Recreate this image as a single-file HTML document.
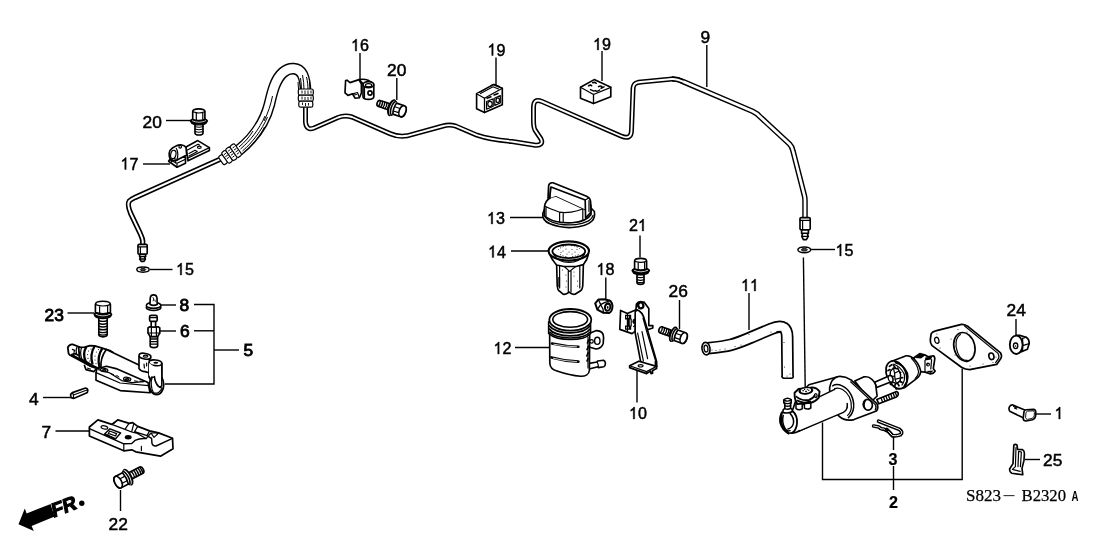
<!DOCTYPE html>
<html>
<head>
<meta charset="utf-8">
<title>Clutch Master Cylinder - Parts Diagram</title>
<style>
html,body{margin:0;padding:0;background:#fff;}
body{width:1108px;height:553px;overflow:hidden;font-family:"Liberation Sans",sans-serif;}
svg{display:block;will-change:transform;}
.lbl{font-family:"Liberation Sans",sans-serif;font-size:16.7px;fill:#000;stroke:#000;stroke-width:0.5px;}
.ld{stroke:#000;stroke-width:1.4;fill:none;}
.o{stroke:#000;stroke-width:1.65;fill:#fff;stroke-linejoin:round;stroke-linecap:round;}
.t{stroke:#000;stroke-width:1.2;fill:none;stroke-linejoin:round;stroke-linecap:round;}
.k{fill:#000;stroke:none;}
.n{fill:none;}
</style>
</head>
<body>
<svg width="1108" height="553" viewBox="0 0 1108 553">
<rect x="0" y="0" width="1108" height="553" fill="#fff"/>

<!-- ================= PIPES ================= -->
<g id="pipes" fill="none" stroke-linejoin="round" stroke-linecap="butt">
<!-- left thin pipe -->
<path id="pL" d="M142.7,246 L142.7,241 C142.5,238 141,235.5 140,233 L130.5,213 C128.5,208 127.2,204 129.2,201.2 C130.6,199.4 133,198.4 135,197.5 L222,158.4" stroke="#000" stroke-width="5.3"/>
<path d="M142.7,246 L142.7,241 C142.5,238 141,235.5 140,233 L130.5,213 C128.5,208 127.2,204 129.2,201.2 C130.6,199.4 133,198.4 135,197.5 L222,158.4" stroke="#fff" stroke-width="2.0"/>
<!-- main pipe 9 -->
<path d="M672,79 C676,78.7 679,79.6 683,81.6 L752.5,111.3 C755.5,112.8 757.5,113.8 759.5,116.3 L789.5,144 C791.5,146 792.5,148 793,151 L804.5,196 C805,198 805,199 805,201 L805,219" stroke="#000" stroke-width="5.5"/>
<path d="M672,79 C676,78.7 679,79.6 683,81.6 L752.5,111.3 C755.5,112.8 757.5,113.8 759.5,116.3 L789.5,144 C791.5,146 792.5,148 793,151 L804.5,196 C805,198 805,199 805,201 L805,219" stroke="#fff" stroke-width="2.7"/>
<path id="p9" d="M305.5,106 L305.5,122 C306,128 309,130 314,128 L338,117.5 C343,115.5 347,115.5 352,117 L390,133.6 C395,135.8 400,137 407,135.8 L443,126 C447,124.8 451,124.6 456,126.2 L477,135.2 C488,139 500,140.5 512,141.5 L534,145 C541,146 543,143 541,139 L535,130 C533.5,127 533.5,125 533.5,120 L533.5,108 C533.5,101 536,99 542,101.5 L621,136 C628,139 631.5,137 631.5,130 L633,90 C633,84 635,82.5 641,82 L672,79 C676,78.7 679,79.6 683,81.6" stroke="#000" stroke-width="5"/>
<path d="M305.5,106 L305.5,122 C306,128 309,130 314,128 L338,117.5 C343,115.5 347,115.5 352,117 L390,133.6 C395,135.8 400,137 407,135.8 L443,126 C447,124.8 451,124.6 456,126.2 L477,135.2 C488,139 500,140.5 512,141.5 L534,145 C541,146 543,143 541,139 L535,130 C533.5,127 533.5,125 533.5,120 L533.5,108 C533.5,101 536,99 542,101.5 L621,136 C628,139 631.5,137 631.5,130 L633,90 C633,84 635,82.5 641,82 L672,79 C676,78.7 679,79.6 683,81.6" stroke="#fff" stroke-width="1.9"/>

<!-- hose -->
<path d="M238.5,150.5 C252,139.5 264.5,124 269.5,104 C272.5,91 275.5,79 283,72.5 C289.5,67 298.5,67 302.5,74.5 C304.5,79 305.5,84 305.5,91" stroke="#000" stroke-width="11.6"/>
<path d="M238.5,150.5 C252,139.5 264.5,124 269.5,104 C272.5,91 275.5,79 283,72.5 C289.5,67 298.5,67 302.5,74.5 C304.5,79 305.5,84 305.5,91" stroke="#fff" stroke-width="8.8"/>
<g stroke="#000" stroke-width="1">
<path d="M240.5,149 C250,141 259.5,129 265,116"/>
<path d="M242.5,151 C252,143 262,130 267.5,117"/>
<path d="M244.5,152 C252,145.5 260,136 264.5,127"/>
<path d="M239,147 C245,142 250,136 253,131"/>
<path d="M264,121 C268,113 271,104 272.5,96"/>
<path d="M302.5,75 C303.5,80 304,85 304,90"/>
<path d="M306.5,77 C307.5,81 308,86 308,90"/>
<path d="M300.5,78 C301,82 301.5,86 301.5,90"/>
<path d="M309.5,82 L310,90"/>
<path d="M298,82 L298.6,90"/>
</g>
<!-- upper connector -->
<g stroke="#000" stroke-width="1.2" fill="#fff">
<rect x="298.3" y="89" width="15" height="6.4" rx="1.8"/>
<rect x="298.3" y="95.2" width="15" height="6.2" rx="1.8"/>
<rect x="298.8" y="101.2" width="14" height="6" rx="1.8"/>
</g>
<g stroke="#000" stroke-width="0.9">
<path d="M302,90.5v3M305,90.5v3.5M308,90.5v3.5M311,90.5v3M302,96.5v3M305,97v3M308,97v3M311,96.5v3M302.5,102.5v2.5M305.5,103v3M308.5,103v2.5"/>
</g>
<!-- lower-left connector -->
<g stroke="#000" stroke-width="1.2" fill="#fff" transform="translate(229.6,155) rotate(-35)">
<rect x="-10.5" y="-5" width="5" height="10" rx="1.6"/>
<rect x="-5.8" y="-6.6" width="5.4" height="13.2" rx="1.8"/>
<rect x="-0.6" y="-7" width="5.6" height="14" rx="1.8"/>
<rect x="4.8" y="-7" width="5.6" height="14" rx="1.8"/>
<path d="M1,-4h2.5M1,-1.5h3M1,1h3M1,3.5h2.5M6.5,-4h2.5M6.5,-1.5h3M6.5,1h3M6.5,3.5h2.5M-4.5,-3.5h2.5M-4.5,-1h3M-4.5,1.5h2.5" stroke-width="0.9"/>
</g>
</g>

<!-- ================= LEADERS ================= -->
<g class="ld">
<path d="M166,120.5H191"/>
<path d="M143,164H170"/>
<path d="M360,53V80"/>
<path d="M396.8,78V100"/>
<path d="M496,57.5V85"/>
<path d="M602,51V81"/>
<path d="M706.8,45V87"/>
<path d="M150,269.5H172.5"/>
<path d="M811,249.5H835"/>
<path d="M803.4,257.5L805.2,387"/>
<path d="M749,293V330"/>
<path d="M510,217.5H543"/>
<path d="M511,251H549"/>
<path d="M605.8,277.5V299"/>
<path d="M640,235.5V257.5"/>
<path d="M679.5,300V329"/>
<path d="M515,347.5H549"/>
<path d="M637,371V402.5"/>
<path d="M67.5,313H94"/>
<path d="M160,305H176"/>
<path d="M160,331H176"/>
<path d="M194,304.5H214V384H165"/>
<path d="M194,330.8H214"/>
<path d="M214,350H239"/>
<path d="M43,397.5H70.5"/>
<path d="M55.5,431H89"/>
<path d="M120.5,490V511"/>
<path d="M1016,319V336"/>
<path d="M1036,414H1051"/>
<path d="M1025,459.5H1040"/>
<path d="M893.5,436V450"/>
<path d="M893.5,466V490"/>
<path d="M822.5,422.5V479.5H962.2V368.5"/>
</g>

<!-- ================= LABELS ================= -->
<g class="lbl">
<text transform="translate(142.5,127.5) scale(1.04,1)">20</text>
<g transform="translate(120.5,169.5) scale(0.965,1)"><path transform="translate(0.00,0)" d="M5.90,0.00 L4.38,0.00 L4.38,-9.32 Q3.34,-8.35 1.75,-7.72 L1.75,-9.15 Q4.09,-10.27 4.98,-11.96 L5.90,-11.96 Z" style="stroke-width:0.35px"/><text x="9.29" y="0">7</text></g>
<g transform="translate(351,51) scale(0.965,1)"><path transform="translate(0.00,0)" d="M5.90,0.00 L4.38,0.00 L4.38,-9.32 Q3.34,-8.35 1.75,-7.72 L1.75,-9.15 Q4.09,-10.27 4.98,-11.96 L5.90,-11.96 Z" style="stroke-width:0.35px"/><text x="9.29" y="0">6</text></g>
<text transform="translate(387,76) scale(1.04,1)">20</text>
<g transform="translate(487.5,55.5) scale(0.965,1)"><path transform="translate(0.00,0)" d="M5.90,0.00 L4.38,0.00 L4.38,-9.32 Q3.34,-8.35 1.75,-7.72 L1.75,-9.15 Q4.09,-10.27 4.98,-11.96 L5.90,-11.96 Z" style="stroke-width:0.35px"/><text x="9.29" y="0">9</text></g>
<g transform="translate(593,50) scale(0.965,1)"><path transform="translate(0.00,0)" d="M5.90,0.00 L4.38,0.00 L4.38,-9.32 Q3.34,-8.35 1.75,-7.72 L1.75,-9.15 Q4.09,-10.27 4.98,-11.96 L5.90,-11.96 Z" style="stroke-width:0.35px"/><text x="9.29" y="0">9</text></g>
<text transform="translate(700.5,42.5) scale(1.04,1)">9</text>
<g transform="translate(176,275) scale(0.965,1)"><path transform="translate(0.00,0)" d="M5.90,0.00 L4.38,0.00 L4.38,-9.32 Q3.34,-8.35 1.75,-7.72 L1.75,-9.15 Q4.09,-10.27 4.98,-11.96 L5.90,-11.96 Z" style="stroke-width:0.35px"/><text x="9.29" y="0">5</text></g>
<g transform="translate(835.5,256) scale(0.965,1)"><path transform="translate(0.00,0)" d="M5.90,0.00 L4.38,0.00 L4.38,-9.32 Q3.34,-8.35 1.75,-7.72 L1.75,-9.15 Q4.09,-10.27 4.98,-11.96 L5.90,-11.96 Z" style="stroke-width:0.35px"/><text x="9.29" y="0">5</text></g>
<g transform="translate(741,291) scale(0.965,1)"><path transform="translate(0.00,0)" d="M5.90,0.00 L4.38,0.00 L4.38,-9.32 Q3.34,-8.35 1.75,-7.72 L1.75,-9.15 Q4.09,-10.27 4.98,-11.96 L5.90,-11.96 Z" style="stroke-width:0.35px"/><path transform="translate(9.29,0)" d="M5.90,0.00 L4.38,0.00 L4.38,-9.32 Q3.34,-8.35 1.75,-7.72 L1.75,-9.15 Q4.09,-10.27 4.98,-11.96 L5.90,-11.96 Z" style="stroke-width:0.35px"/></g>
<g transform="translate(487,224) scale(0.965,1)"><path transform="translate(0.00,0)" d="M5.90,0.00 L4.38,0.00 L4.38,-9.32 Q3.34,-8.35 1.75,-7.72 L1.75,-9.15 Q4.09,-10.27 4.98,-11.96 L5.90,-11.96 Z" style="stroke-width:0.35px"/><text x="9.29" y="0">3</text></g>
<g transform="translate(488,257.5) scale(0.965,1)"><path transform="translate(0.00,0)" d="M5.90,0.00 L4.38,0.00 L4.38,-9.32 Q3.34,-8.35 1.75,-7.72 L1.75,-9.15 Q4.09,-10.27 4.98,-11.96 L5.90,-11.96 Z" style="stroke-width:0.35px"/><text x="9.29" y="0">4</text></g>
<g transform="translate(596.5,275) scale(0.965,1)"><path transform="translate(0.00,0)" d="M5.90,0.00 L4.38,0.00 L4.38,-9.32 Q3.34,-8.35 1.75,-7.72 L1.75,-9.15 Q4.09,-10.27 4.98,-11.96 L5.90,-11.96 Z" style="stroke-width:0.35px"/><text x="9.29" y="0">8</text></g>
<g transform="translate(629,231) scale(0.965,1)"><text x="0.00" y="0">2</text><path transform="translate(9.29,0)" d="M5.90,0.00 L4.38,0.00 L4.38,-9.32 Q3.34,-8.35 1.75,-7.72 L1.75,-9.15 Q4.09,-10.27 4.98,-11.96 L5.90,-11.96 Z" style="stroke-width:0.35px"/></g>
<text transform="translate(668.5,297) scale(1.04,1)">26</text>
<g transform="translate(493.5,354) scale(0.965,1)"><path transform="translate(0.00,0)" d="M5.90,0.00 L4.38,0.00 L4.38,-9.32 Q3.34,-8.35 1.75,-7.72 L1.75,-9.15 Q4.09,-10.27 4.98,-11.96 L5.90,-11.96 Z" style="stroke-width:0.35px"/><text x="9.29" y="0">2</text></g>
<g transform="translate(629,419) scale(0.965,1)"><path transform="translate(0.00,0)" d="M5.90,0.00 L4.38,0.00 L4.38,-9.32 Q3.34,-8.35 1.75,-7.72 L1.75,-9.15 Q4.09,-10.27 4.98,-11.96 L5.90,-11.96 Z" style="stroke-width:0.35px"/><text x="9.29" y="0">0</text></g>
<text transform="translate(44.5,320.5) scale(1.04,1)" style="stroke-width:0.85px">23</text>
<text transform="translate(179.5,311) scale(1.04,1)" style="stroke-width:0.85px">8</text>
<text transform="translate(180,337) scale(1.04,1)" style="stroke-width:0.85px">6</text>
<text transform="translate(243.5,356) scale(1.04,1)" style="stroke-width:0.85px">5</text>
<text transform="translate(29,404.5) scale(1.04,1)">4</text>
<text transform="translate(41.5,438) scale(1.04,1)">7</text>
<text transform="translate(108.5,529.5) scale(1.04,1)">22</text>
<text transform="translate(1006.5,315.5) scale(1.04,1)">24</text>
<g transform="translate(1054.5,419) scale(0.965,1)"><path transform="translate(0.00,0)" d="M5.90,0.00 L4.38,0.00 L4.38,-9.32 Q3.34,-8.35 1.75,-7.72 L1.75,-9.15 Q4.09,-10.27 4.98,-11.96 L5.90,-11.96 Z" style="stroke-width:0.35px"/></g>
<text transform="translate(1043,466) scale(1.04,1)">25</text>
<text transform="translate(888.5,464.5) scale(0.965,1)" style="font-weight:bold;stroke-width:0.2px">3</text>
<text transform="translate(889,508) scale(0.965,1)" style="font-weight:bold;stroke-width:0.2px">2</text>
</g>
<text x="966" y="501.2" textLength="35" lengthAdjust="spacingAndGlyphs" style='font-family:"Liberation Serif",serif;font-size:17.2px;fill:#000;stroke:#000;stroke-width:0.25px'>S823</text>
<path d="M1003.5,495.6H1014.5" stroke="#333" stroke-width="1.1" />
<text x="1021.5" y="501.2" textLength="44.5" lengthAdjust="spacingAndGlyphs" style='font-family:"Liberation Serif",serif;font-size:17.2px;fill:#000;stroke:#000;stroke-width:0.25px'>B2320</text>
<text x="1071.5" y="501.2" textLength="7" lengthAdjust="spacingAndGlyphs" style='font-family:"Liberation Sans",sans-serif;font-size:14px;font-weight:bold;fill:#000'>A</text>

<!-- PARTS -->
<g id="parts">
<!-- bolt 20 left -->
<g id="bolt20L">
<path class="o" d="M195,124 V133 Q195,135 199,135 Q203,135 203,133 V124 Z"/>
<path class="t" d="M195,126.5 Q199,128 203,126.5 M195,129 Q199,130.5 203,129 M195,131.5 Q199,133 203,131.5"/>
<ellipse cx="198.9" cy="122.6" rx="8.2" ry="3" fill="#000"/>
<path d="M191.4,122 Q198.9,125.6 206.4,122" stroke="#fff" stroke-width="0.7" fill="none"/>
<ellipse cx="198.9" cy="121" rx="9.3" ry="3.5" fill="#000"/>
<path d="M192,120.6 Q198.9,123.8 206,120.6" stroke="#fff" stroke-width="0.8" fill="none"/>
<path class="o" d="M192.7,119.5 V111.5 Q192.7,108.8 198.8,108.8 Q204.9,108.8 204.9,111.5 V119.5 Q198.8,121.5 192.7,119.5 Z"/>
<path class="t" d="M196.3,112.5 V120.3 M202.8,112.5 V120.2 M192.9,111.8 Q196,113 198.8,113 Q202,113 204.8,111.8"/>
</g>
<!-- clip 17 -->
<g id="clip17">
<path class="o" d="M186,147 L197.8,140.6 L209.4,147.6 L209.4,150.6 L188,160.8 Z"/>
<path class="t" d="M188,158 L209.4,147.6 M187.5,150 L198,144.2 L199.5,145 M189,153.5 L195,150.3 M189,156 L197,151.8 M195,150.3 L197.2,151.6"/>
<ellipse cx="199.3" cy="147.3" rx="1.9" ry="1.1" class="t"/>
<path class="o" d="M168.6,161.3 L170.5,158.5 L185.5,157 L185.5,163.3 L177,167.2 Z"/>
<path class="o" d="M169.3,156.5 C168.3,150.5 172,147.5 176,146 C180,144 184.5,144.8 186,147.5 L186.7,155 L178,159.5 L176.5,160.5 C174,161 170.5,160.5 169.3,156.5 Z"/>
<ellipse cx="173.3" cy="154.5" rx="2.6" ry="4.3" class="t" transform="rotate(12 173.3 154.5)"/>
<path class="t" d="M176.6,160.4 C178.3,157 178.3,151.5 176.3,148.5 M172.3,158.5 L171.5,162 M175,158.5 L175.5,163"/>
<circle cx="180.2" cy="146.8" r="1.3" class="t"/>
<path class="t" d="M177,167.2 L177,163.2 L185.5,159.2 M177,163.2 L170,160"/>
</g>
<!-- clip 16 -->
<g id="clip16">
<path class="o" d="M345.6,80.6 L345,92.8 L348,95.4 L352.5,93.8 L355,98.2 L359.4,97.8 L361.4,93 L361.4,84 L359,79.6 L350,82.6 L347,80.2 Z"/>
<path class="t" d="M352.5,93.8 L357.5,92.5 L359.4,97.8 M354,95 L356.5,94.5"/>
<path class="o" d="M363,84.5 V96.5 Q363,99.4 368.4,99.4 Q373.8,99.4 373.8,96.5 V84.5"/>
<path class="o" d="M359,79.6 Q364,78.5 368.8,80.6 L373,83.5 L363.4,84 Z"/>
<ellipse class="o" cx="368.4" cy="84.6" rx="5.4" ry="3"/>
<ellipse class="t" cx="368.6" cy="85.2" rx="3.2" ry="1.6"/>
<circle cx="370" cy="93" r="2.1" class="t" style="stroke-width:1.6"/>
<path class="t" d="M364.5,87.5 V97.5"/>
</g>
<!-- bolt 20 right -->
<g id="bolt20R" transform="translate(392.2,107.8) rotate(18.5)">
<path class="o" d="M-4,-3.1 H-14 Q-15.8,-3.1 -15.8,0 Q-15.8,3.1 -14,3.1 H-4 Z"/>
<path class="t" d="M-13.5,-3.1 Q-12.3,0 -13.5,3.1 M-11.2,-3.1 Q-10,0 -11.2,3.1 M-8.9,-3.1 Q-7.7,0 -8.9,3.1 M-6.6,-3.1 Q-5.4,0 -6.6,3.1" style="stroke-width:1.4"/>
<ellipse cx="-0.3" cy="0" rx="4.2" ry="8.9" fill="#000"/>
<ellipse cx="0.6" cy="0" rx="3" ry="7.6" fill="#fff"/>
<ellipse cx="1.4" cy="0" rx="3.2" ry="7.8" fill="#000"/>
<ellipse cx="2.4" cy="0" rx="2.6" ry="6.6" fill="#fff"/>
<path class="o" d="M2.6,-5.8 L10.8,-5.8 Q14.2,-5.8 14.2,0 Q14.2,5.8 10.8,5.8 L2.6,5.8 Q0.8,0 2.6,-5.8 Z"/>
<ellipse class="o" cx="10.8" cy="0" rx="3.3" ry="5.8"/>
<path class="t" d="M2.2,-1.8 H7.6 M2.2,2.6 H7.6"/>
</g>
<!-- block 19 #1 -->
<g id="block19a">
<path class="o" d="M476.6,93.8 L493.2,84.6 L502.3,88.2 L502.3,104.7 L484.5,112.6 L476.6,108.7 Z"/>
<path class="o" style="stroke-width:1.3" d="M476.6,93.8 L484.5,98.2 L502.3,88.2 M484.5,98.2 V112.6"/>
<path class="t" d="M480.5,93.5 L493,86.8 L498.5,89 M491,85.9 Q493.5,83.3 496.5,85.2 L499.5,86.6"/>
<path d="M486.5,98.4 l5,-2 M493.5,95.3 l5,-2" stroke="#000" stroke-width="1.6" fill="none"/>
<path class="t" d="M486.6,101.5 L493.2,98.7 V106.3 L486.6,109.2 Z M494.8,98 L500.3,95.6 V103 L494.8,105.4 Z"/>
<ellipse class="t" cx="490" cy="104" rx="2.2" ry="2.7"/>
<ellipse class="t" cx="497.8" cy="100.3" rx="1.7" ry="2.4"/>
</g>
<!-- block 19 #2 -->
<g id="block19b">
<path class="o" d="M580.5,87.3 L594.2,79.6 L610.8,87.3 L610.8,96.7 L593.5,103.6 L580.5,98.2 Z"/>
<path class="o" style="stroke-width:1.3" d="M580.5,87.3 L593.5,94.5 L610.8,87.3 M593.5,94.5 V103.6"/>
<path d="M588.5,85.8 q2,-1.4 3.2,0 M592.6,82.8 q2.2,-1 3.6,0.4 M598.5,86.6 q2,-1.4 3.4,0 M590.5,89.6 l3.4,1.5 M595,90.6 q2.4,1.4 4.6,-0.6 M601,88.3 l3,-1.4" stroke="#000" stroke-width="1.5" fill="none" stroke-linecap="round"/>
</g>
<!-- pipe end fittings + washers 15 -->
<g id="fitR">
<path class="o" d="M800,218.6 Q800,217.6 801.2,217.6 H808.8 Q810.2,217.6 810.2,218.6 V228.8 Q810.2,229.8 808.8,229.8 H801.2 Q800,229.8 800,228.8 Z"/>
<path class="t" d="M800,220.3 H810.2 M802.6,220.5 V229.5"/>
<path class="o" d="M801.6,230 H808.4 V233.2 L807.6,234.4 L808.2,236.4 L806.4,239.6 H803.4 L801.8,236.4 L802.4,234.4 L801.6,233.2 Z"/>
<path class="t" d="M801.6,233.2 H808.4 M801.8,236.4 H808.2" style="stroke-width:1.4"/>
<ellipse cx="804.3" cy="249.8" rx="6.4" ry="2.9" fill="#fff" stroke="#000" stroke-width="1.5"/>
<ellipse cx="804.3" cy="249.8" rx="3" ry="1.3" fill="#444" stroke="#000" stroke-width="0.9"/>
</g>
<g id="fitL">
<path class="o" d="M138,245.4 Q138,244.4 139.2,244.4 H146 Q147.2,244.4 147.2,245.4 V253.2 Q147.2,254.2 146,254.2 H139.2 Q138,254.2 138,253.2 Z"/>
<path class="t" d="M138,246.8 H147.2 M140.4,247 V254"/>
<path class="o" d="M139.6,254.4 H145.6 V256.6 L144.8,257.6 L145.4,259 L144,261.4 H141.2 L139.8,259 L140.4,257.6 L139.6,256.6 Z"/>
<path class="t" d="M139.6,256.6 H145.6 M139.8,259 H145.4" style="stroke-width:1.3"/>
<ellipse cx="143" cy="269.6" rx="6.2" ry="2.6" fill="#fff" stroke="#000" stroke-width="1.4"/>
<ellipse cx="143" cy="269.6" rx="2.8" ry="1.1" fill="#444" stroke="#000" stroke-width="0.9"/>
</g>
<!-- cap 13 -->
<g id="cap13">
<path class="o" d="M542.8,213.5 C542.2,219 545,221.8 550,223.8 C557,226.8 565,227.8 572,227.5 C581,227 588.5,224.5 592,221 C594.6,218.4 595,216 594.4,211.5 L591,208 L545,208 Z"/>
<path class="t" d="M544,215 C545.5,219.5 551,222.2 558,223.8 C566,225.4 575,225.2 582,223.4 C588,221.8 592,219 593,215.5"/>
<path class="o" d="M544.4,215.5 V207.5 C544.6,203 547,199.5 551,197.2 L556,196 L585.4,209.5 L590.8,205 L591,214.5 C588,219.5 581,222 572,222.8 C561,223.4 549.5,221 544.4,215.5 Z"/>
<path class="t" d="M545.2,206.2 C548,208 554,210 559.6,212.2 C566,213.2 576,212 583,208.8 M546,207.5 V215.5 M559.6,212.4 V222 M563.2,212.6 V222.2 M582.8,209 V219.5"/>
<path d="M549.6,198 L551,187 L585.2,200 L585.4,209.5 L556,196 Z" fill="#fff" stroke="none"/>
<path class="o" d="M548,198.2 L548.6,186 Q549,182.4 553,182.8 L586.6,196.2 Q590.4,198 590.6,201.5 L591,212 L585.6,218 L585.2,200 L551,187 L549.6,198 Z"/>
<path class="t" d="M550.4,187.4 L550,197.6 M585.2,200 L588.8,198 M589,200.5 V211.5"/>
</g>
<!-- filter 14 -->
<g id="filter14">
<path class="o" d="M556.6,263 L557.2,285 Q557.4,290 559.5,291.2 L563,294.2 Q566,294.8 569.2,292.2 Q572,294.8 575,294.2 L580.2,291 Q582.6,289.6 582.8,285 L583.4,263 Z"/>
<path class="t" d="M559.6,266 V288 M568.3,271 V292 M571,271 V292 M579.8,266 V288 M564,266.2 L569.6,271.4 L576,266.2"/>
<path d="M559.2,277 V287" stroke="#000" stroke-width="1.8"/>
<g fill="#000"><circle cx="566" cy="275" r=".5"/><circle cx="566.5" cy="281" r=".5"/><circle cx="566" cy="287" r=".5"/><circle cx="574" cy="276" r=".5"/><circle cx="577.5" cy="281" r=".5"/><circle cx="577.5" cy="286" r=".5"/><circle cx="574" cy="272" r=".5"/><circle cx="562.5" cy="270" r=".5"/></g>
<path class="o" d="M550,255 C551.5,259.5 554.5,262 556.6,265 L564,266.5 L576,266.5 L583.4,264.6 C585.5,262 587.5,259 588.2,255 Z"/>
<ellipse cx="568.8" cy="251" rx="20.2" ry="9.6" fill="#fff" stroke="#000" stroke-width="2.1"/>
<ellipse cx="568.8" cy="251.3" rx="16.4" ry="6.8" fill="#fff" stroke="#000" stroke-width="1.8"/>
<path class="t" d="M553.5,254.5 C557,260 563,262.4 569,262.4 C575,262.4 581,260 584.5,254.5"/>
<path d="M558,250 q3,-3.4 8,-4 M571,245.6 q6,0.4 9,3.4 M560,254.4 q4,2.4 8,2.4 M572,256.6 q4,-0.2 7,-2.4" stroke="#000" stroke-width="0.8" fill="none" stroke-dasharray="1.2 1.6"/>
<g fill="#000"><circle cx="563" cy="251" r=".5"/><circle cx="566" cy="249" r=".5"/><circle cx="569" cy="252" r=".5"/><circle cx="572" cy="249.5" r=".5"/><circle cx="575" cy="252" r=".5"/><circle cx="567" cy="254" r=".5"/><circle cx="572" cy="254" r=".5"/><circle cx="577" cy="249.6" r=".5"/><circle cx="561" cy="252.6" r=".5"/></g>
</g>
<!-- reservoir 12 -->
<g id="res12">
<!-- nozzle -->
<path class="o" d="M588,363.6 L597,362 L597.6,361 L603.4,360.2 Q605.2,360.6 605.4,363.4 Q605.4,366.2 603.8,366.8 L598.4,367.6 L598,366.8 L589,369 Z"/>
<path class="t" d="M597.2,362 Q598.6,364.6 598.2,367.4"/>
<!-- mount tab -->
<path class="o" d="M589,333.4 L596.4,330.6 Q603.6,330.8 603.6,337.4 L603.2,343.4 Q601.6,348.2 596,349 L589,347 Z"/>
<ellipse cx="597.3" cy="340.8" rx="2.7" ry="3.6" class="t" style="stroke-width:1.4"/>
<!-- body -->
<path class="o" d="M549.6,321 L549.8,363 C550,367.5 552.6,369.8 557,371 C564,373.4 572,375.6 580.5,376.2 C585.6,376.4 589,374 589.4,370.5 L589.8,321 Z"/>
<path d="M552,343.6 Q565,346.6 578.4,346.8 M551.4,357.4 Q565,361.2 578.4,361.6" stroke="#000" stroke-width="2.6" fill="none" stroke-linecap="round"/>
<path d="M553.6,344.2 Q565,346.6 577,346.8 M553,358.2 Q565,361.2 577,361.6" stroke="#fff" stroke-width="0.8" fill="none"/>
<path class="t" d="M588,337 V368"/>
<path d="M587.4,343 l1.2,-3 M587,349.6 l1.6,-3.4 M586.8,356 l1.4,-3.4 M587,361 l1,-2.4" stroke="#000" stroke-width="1.6" fill="none" stroke-linecap="round"/>
<circle cx="591.6" cy="341.4" r="1.7" class="o" style="stroke-width:1.2"/>
<!-- neck threads -->
<path d="M548.6,322 V333.4 C553,337.6 562,339.6 570.4,339.6 C579,339.6 587,337.4 590.6,333.4 V322 Z" fill="#fff" stroke="#000" stroke-width="1.5"/>
<path d="M548.8,325.4 C553,330.6 562,332.8 570.4,332.8 C579,332.8 587,330.4 590.4,325.6 M548.8,328.6 C553,333.6 562,335.8 570.4,335.8 C579,335.8 587,333.6 590.4,328.8 M549.2,331.8 C553,336 562,338 570.4,338 C579,338 587,335.8 590.2,332" stroke="#000" stroke-width="1.7" fill="none"/>
<!-- top rim -->
<ellipse cx="570.3" cy="319.8" rx="21" ry="10.8" fill="#fff" stroke="#000" stroke-width="1.8"/>
<ellipse cx="570.2" cy="319.4" rx="17.4" ry="7.8" fill="#fff" stroke="#000" stroke-width="1.6"/>
</g>
<!-- nut 18 -->
<g id="nut18">
<path class="o" d="M595.2,303.4 L598.4,299.6 L604,299.2 L609.4,300.4 Q612.6,302.4 612.4,307 Q612.2,311.6 609,313 L603.4,312.8 L597.4,309.6 Z" style="stroke-width:2"/>
<path class="t" d="M598.4,299.6 L600.6,304.6 L603,309 L603.4,312.8 M600.6,304.6 L604.4,302.6 L609,301 M597.4,309.6 L600.6,304.6" style="stroke-width:1.3"/>
<ellipse cx="607.6" cy="307" rx="3.6" ry="4.8" fill="#000" transform="rotate(10 607.6 307)"/>
<ellipse cx="607.7" cy="307.2" rx="1.7" ry="2.5" fill="#fff" transform="rotate(10 607.7 307.2)"/>
<ellipse cx="607.7" cy="307.4" rx="0.8" ry="1.3" fill="#000"/>
</g>
<!-- bolt 21 -->
<g id="bolt21">
<path class="o" d="M637,274.5 V282.6 Q637,284.4 640.5,284.4 Q644,284.4 644,282.6 V274.5 Z"/>
<path class="t" d="M637,277 Q640.5,278.4 644,277 M637,279.6 Q640.5,281 644,279.6 M637,282 Q640.5,283.4 644,282"/>
<ellipse cx="640.8" cy="272.4" rx="8.2" ry="3" fill="#000"/>
<path d="M633.4,271.8 Q640.8,275.4 648.2,271.8" stroke="#fff" stroke-width="0.7" fill="none"/>
<ellipse cx="640.8" cy="270.6" rx="9.4" ry="3.6" fill="#000"/>
<path d="M634,270.2 Q640.8,273.4 648,270.2" stroke="#fff" stroke-width="0.8" fill="none"/>
<path class="o" d="M634.6,269 V261 Q634.6,258.4 640.6,258.4 Q646.6,258.4 646.6,261 V269 Q640.6,271 634.6,269 Z"/>
<path class="t" d="M638.2,262 V270 M644.6,262 V269.8 M634.8,261.2 Q637.6,262.4 640.6,262.4 Q643.6,262.4 646.4,261.2"/>
</g>
<!-- bracket 10 -->
<g id="bracket10">
<!-- upper tab -->
<path class="o" d="M636,309 L636.4,304 L638.4,302.2 L644,302 L648.8,308.6 L648.8,325.6 L652.8,325.6 L652.8,328 L647.4,329.8 L641,320 Z"/>
<!-- main arm -->
<path class="o" d="M636.6,309.6 C641,311 643.4,315 644.6,320 L656.6,361.5 L656.8,366.5 L652,367 L640.6,361.4 L635,332 L635,312 Z"/>
<path class="t" d="M637.6,333 L643.4,361 M642,331.6 L647.6,358.6 M643,318 L646.6,331 L655.4,360.4"/>
<!-- left plate -->
<path class="o" d="M620.6,310.4 L619.8,329.4 L632,333.6 L635,331.4 L635.2,312 L636.6,309.6 L627.4,313.4 Z"/>
<path d="M625,314.8 h6.2 v4.8 h-6.2 z M625,325.4 h6.2 v4.4 h-6.2 z M627.2,319.4 h2.6 v6.2 h-2.6 z" fill="#000"/>
<path d="M626.2,316 h2.4 v2 h-2.4 z M626.2,326.8 h2.4 v1.6 h-2.4 z" fill="#fff"/>
<path class="t" d="M627.4,313.4 V331.6 M631.2,319.2 V325.8 M633.6,320 L635,319 M633.6,326.5 L635,325.5" />
<ellipse cx="634" cy="321.6" rx="1.6" ry="2.4" fill="#000"/>
<!-- hole on tab -->
<ellipse cx="640.6" cy="305.2" rx="3.8" ry="4.3" fill="#000" transform="rotate(-20 640.6 305.2)"/>
<ellipse cx="640.8" cy="305.4" rx="1.4" ry="1.8" fill="#fff" transform="rotate(-20 640.8 305.4)"/>
<!-- foot -->
<path class="o" d="M629.6,365.8 L638.8,361.2 L656.6,366.4 L656.6,368.4 L652.6,370.4 L652.6,373.2 L651,373.6 L650.6,371 L646.6,373.6 L629.6,367.6 Z"/>
<path class="t" d="M629.6,365.8 L646.6,371.6 L656.6,366.4 M646.6,371.6 V373.6"/>
<ellipse cx="640.6" cy="365.8" rx="2.4" ry="1.2" class="t"/>
<path d="M655.6,361 V367" stroke="#000" stroke-width="2"/>
</g>
<!-- bolt 26 -->
<g id="bolt26" transform="translate(673.6,334.4) rotate(20)">
<path class="o" d="M-4,-3.1 H-13.6 Q-15.4,-3.1 -15.4,0 Q-15.4,3.1 -13.6,3.1 H-4 Z"/>
<path class="t" d="M-13,-3.1 Q-11.8,0 -13,3.1 M-10.7,-3.1 Q-9.5,0 -10.7,3.1 M-8.4,-3.1 Q-7.2,0 -8.4,3.1 M-6.1,-3.1 Q-4.9,0 -6.1,3.1" style="stroke-width:1.4"/>
<ellipse cx="-0.3" cy="0" rx="3.8" ry="8.2" fill="#000"/>
<ellipse cx="0.5" cy="0" rx="2.7" ry="7" fill="#fff"/>
<ellipse cx="1.3" cy="0" rx="2.9" ry="7.2" fill="#000"/>
<ellipse cx="2.3" cy="0" rx="2.4" ry="6" fill="#fff"/>
<path class="o" d="M2.6,-5.6 L10.6,-5.6 Q14,-5.6 14,0 Q14,5.6 10.6,5.6 L2.6,5.6 Q0.8,0 2.6,-5.6 Z"/>
<ellipse class="o" cx="10.6" cy="0" rx="3.2" ry="5.6"/>
<path class="t" d="M2.2,-1.8 H7.4 M2.2,2.6 H7.4"/>
</g>
<!-- hose 11 -->
<g id="hose11" fill="none">
<path d="M706.5,348.4 C716,347.4 724,346.6 731,344.8 C738,343 744,340.4 751,337.4 L771,329 C776,326.8 781,326 784,328 C786.8,330 787.2,333 787.2,337 L787.6,376.6" stroke="#000" stroke-width="12.6" stroke-linecap="butt"/>
<path d="M706.5,348.4 C716,347.4 724,346.6 731,344.8 C738,343 744,340.4 751,337.4 L771,329 C776,326.8 781,326 784,328 C786.8,330 787.2,333 787.2,337 L787.6,376.6" stroke="#fff" stroke-width="9.2" stroke-linecap="butt"/>
<path d="M781.9,376 Q782,378.2 784,378.2 H791.4 Q793.3,378.2 793.3,376" stroke="#000" stroke-width="1.6" fill="#fff"/>
<path d="M781.4,331.6 L776.5,331.8" stroke="#000" stroke-width="1.5"/>
<ellipse cx="706" cy="348.6" rx="4" ry="6.3" fill="#fff" stroke="#000" stroke-width="1.6" transform="rotate(-8 706 348.6)"/>
<ellipse cx="706" cy="348.6" rx="1.9" ry="3.4" fill="#fff" stroke="#000" stroke-width="1.3" transform="rotate(-8 706 348.6)"/>
<g fill="#000"><circle cx="712" cy="350" r=".5"/><circle cx="716" cy="350.4" r=".5"/><circle cx="720" cy="349.8" r=".5"/><circle cx="725" cy="349" r=".5"/><circle cx="735" cy="346.5" r=".5"/><circle cx="741" cy="345" r=".5"/><circle cx="749" cy="334.5" r=".5"/><circle cx="771" cy="332" r=".5"/><circle cx="784" cy="342.5" r=".5"/><circle cx="784.5" cy="367" r=".5"/><circle cx="787" cy="376" r=".5"/><circle cx="790" cy="374" r=".5"/></g>
</g>
<!-- master cylinder 2 -->
<g id="mc">
<!-- clevis -->
<path class="o" d="M913.9,357.7 L919.8,353.6 L925.2,355 L927.9,356.8 L933.3,355.8 Q935.2,357 934.7,359.5 L933.3,368.5 L935.2,371.2 Q934,373.6 930.6,373.9 L925.2,372.1 L918,371.5 Z"/>
<path d="M919.8,353.8 L925.4,355.2 L921,358.4 L915,358 Z M925.2,357.6 L932.4,356.4 L931,359.4 L925,360.4 Z M926,371 L933.6,370.4 L931,373 Z" fill="#000"/>
<path class="t" d="M925,360.4 V371.8 M931.6,359.6 L930.8,369"/>
<circle cx="928" cy="364.6" r="2" fill="#000"/>
<circle cx="928.2" cy="364.8" r="0.7" fill="#fff"/>
<!-- boot body -->
<path class="o" d="M891.8,361.3 L906.2,355.8 Q910.6,355.6 913.5,358.6 Q919.4,364 920.7,371.2 Q920.4,376 916.2,378.8 L904.4,387.8 L896,389 Z"/>
<path class="t" d="M911.4,358.4 Q917.6,364.4 918.6,372 Q918.4,375.4 915.2,378.6" />
<!-- boot front ring -->
<ellipse cx="896.5" cy="374.8" rx="9.6" ry="14.6" transform="rotate(-24 896.5 374.8)" fill="#fff" stroke="#000" stroke-width="1.8"/>
<path class="t" d="M895.4,362.6 Q903.4,364.6 907.4,373.4 Q909,380 904.4,385.7" style="stroke-width:1.6"/>
<path class="t" d="M893,364 Q900.6,366.4 904.2,374 Q905.6,380 902,385"/>
<!-- dark texture in ring -->
<path d="M889.4,366.4 l2.4,-1.6 M888,370.6 l2,-1 M893.6,365.4 l1.6,2.4 M897.6,368 l-0.6,2.6 M900.6,372.4 l-2,1.6 M902.6,377.6 l-2.4,0.4 M902,382.4 l-2.4,-1 M899,385.8 l-1.4,-2.4 M894.6,387 l0.6,-2.6 M890.4,384.4 l1.6,-1.6" stroke="#000" stroke-width="1.7" fill="none" stroke-linecap="round"/>
<!-- hex nut inside -->
<path class="o" style="stroke-width:1.4" d="M890.4,371.4 L893.4,368 L898.2,369 L900.6,374.4 L900.2,380.6 L896.6,383.6 L892.4,382 L890,377 Z"/>
<path class="t" d="M893.4,368 L894.6,373.2 L895,379.4 L896.6,383.6 M894.6,373.2 L898.8,371 M890.2,376 L894.8,376.4 M895,379.4 L900.2,378"/>
<!-- rod -->
<path class="o" d="M874.6,382.2 L890,375.6 Q892.6,376.4 892.8,379 Q892.6,381.4 890.6,382 L876.6,387.6 Z"/>
<ellipse cx="890.6" cy="378.8" rx="2.2" ry="3.4" class="o" style="stroke-width:1.3" transform="rotate(-22 890.6 378.8)"/>
<!-- stud -->
<path class="o" d="M876.8,399.4 L896.6,391.6 Q898.6,392.4 898.2,394.6 Q897.8,396.4 896.4,397 L878.8,403.8 Z"/>
<path d="M881,397.8 l1.6,4.4 M883.4,396.8 l1.6,4.4 M885.8,395.8 l1.6,4.4 M888.2,394.8 l1.6,4.4 M890.6,393.8 l1.6,4.4 M893,392.8 l1.6,4.4 M895.2,392 l1.4,4" stroke="#000" stroke-width="1.3" fill="none"/>
<!-- rear body -->
<path class="o" d="M854.8,381 L863.6,376.9 Q868,376.2 870.6,378.3 Q875,381.6 875.8,385.7 L877.1,396 L871,402 Z"/>
<!-- main body -->
<path class="o" d="M792.8,409.6 L797,397 L808.9,384.7 L838.7,376.5 L846,400 L840.1,412.5 L796.7,432.1 Q792,433.6 788.6,432.8 Q783.6,430 781.3,422.6 L781.8,412.5 Z"/>
<!-- flange -->
<path class="o" d="M829.6,388 C830.6,381.6 834,377.4 838.7,376.5 Q845,376 851,379.9 L876.8,403.6 Q879.2,407.4 876.4,411 L854,419.6 C848,421 842.4,419.4 838.7,415.9 C833,409 829,398 829.6,388 Z"/>
<path class="t" d="M850.6,381.8 L875.2,404.6 Q877,407.4 875.2,410"/>
<path class="t" d="M832.6,385.8 C838,382.6 846.6,386.4 851,394.6 C855.4,403.4 854.4,413 848.4,417.6" style="stroke-width:1.5"/>
<path class="t" d="M834.6,388.6 C839.4,386.6 846,390.4 849.4,397 C852.6,404 852,411.6 847.6,415.4"/>
<ellipse cx="867.8" cy="404.8" rx="4.5" ry="5.4" class="o" transform="rotate(-15 867.8 404.8)"/>
<path class="t" d="M865.4,400.6 Q862.8,405 865.6,409.4"/>
<!-- cylinder barrel (front of flange) -->
<path d="M799,406.8 L834.6,389.6 C841,390 846.4,397 847.4,404 C847.8,408 846,411 843.4,412.4 L800,431 Z" fill="#fff" stroke="none"/>
<path class="t" style="stroke-width:1.5" d="M798,407.2 L834.7,389.4 M798,431.6 L843.4,412.4 C846.4,410.6 847.8,407.6 847.2,403.6"/>
<!-- end cap -->
<path class="o" d="M792.8,411.2 C796,414 797.4,418.6 797,423.6 C796.6,427.8 795,431 792,433" style="fill:none;stroke-width:1.8"/>
<path class="t" style="stroke-width:1.5" d="M790.2,413.6 C793,416.4 794,420 793.4,423.4 C792.6,426.6 790.6,428.4 788,429"/>
<path class="t" style="stroke-width:1.5" d="M783.2,415.6 C782.2,419.6 782.8,424.6 785,428.4 C786.4,430.6 788.4,431.4 790,430.6"/>
<path d="M781.8,412.5 Q779.4,417 780.2,422.6 Q782,430 788.6,433.6" class="t" style="stroke-width:1.9"/>
<!-- bleeder -->
<path class="o" d="M782.6,412.4 L783.4,409.4 L784.8,408.6 V404 L783.8,402.6 V399.8 Q787.4,396.8 791.2,399.6 V402.6 L790.6,403.8 V408.4 L792,409.2 L792.6,411.6 Q787.6,414 782.6,412.4 Z"/>
<path class="t" style="stroke-width:1.4" d="M783.8,402.6 Q787.4,404.6 791.2,402.6 M784.8,405.6 Q787.6,407 790.6,405.6 M784.8,408.6 Q787.6,410 790.6,408.4 M784.4,400.4 Q787.4,402 790.8,400.2"/>
<!-- port boss -->
<path class="o" style="stroke-width:1.5" d="M796,403.2 V408.6 Q799,410.6 802.2,408.8 V403 Z M804.4,402.8 V408.2 Q807.6,410 810.8,408 V402.4 Z"/>
<path class="o" style="stroke-width:1.9" d="M794.6,392.8 L798.6,389 L812.6,387.4 Q817.4,388.2 819.6,391.6 L818.6,397.8 Q815.6,401.6 810.6,402.8 L797.4,404 Q794.2,399.6 794.6,392.8 Z"/>
<path d="M796.4,396.6 Q802,401.4 809,399.8 Q813.4,398.4 814.6,395.4 M797.2,400.6 Q803,404 810.4,401.4" stroke="#000" stroke-width="1.7" fill="none" stroke-linecap="round"/>
<ellipse cx="805.9" cy="390.8" rx="7.5" ry="3.9" fill="#000" transform="rotate(-6 805.9 390.8)"/>
<ellipse cx="805.9" cy="390.5" rx="5.2" ry="2.3" fill="#fff" transform="rotate(-6 805.9 390.5)"/>
<path d="M802.4,390.6 h1.4 M805.2,391.4 h1.6 M808,390.2 h1.4 M804,389.4 h1.2 M806.8,389.2 h1.2" stroke="#000" stroke-width="1.1"/>
<ellipse cx="815.8" cy="395.6" rx="1.3" ry="1.9" class="t" style="stroke-width:1.3"/>
</g>
<!-- gasket -->
<g id="gasket">
<path class="o" style="stroke-width:1.7" d="M931.2,333.6 Q932.4,331.6 935.6,330.9 L961.5,324.4 Q965,324.2 968.5,326.8 L1000.3,352.6 Q1002.4,355.6 1000.8,358.5 L996.7,364.4 L969.7,369.7 Q965,369.6 961.5,367.3 L932.1,345.6 Q930,343 930.3,339.7 Z"/>
<path class="t" d="M964.6,326 L998,353.4 Q999.6,356 998.6,358.4 L995.6,362.6"/>
<ellipse cx="964.4" cy="346.9" rx="10.4" ry="14.6" transform="rotate(-14 964.4 346.9)" fill="#fff" stroke="#000" stroke-width="1.7"/>
<path class="t" d="M960.4,334.6 C955.6,337.6 954.6,345.6 957.6,352.6 C959.6,357.6 963.6,360.6 967.4,360.4"/>
<ellipse cx="936.8" cy="340.3" rx="2.1" ry="3.1" transform="rotate(-14 936.8 340.3)" class="o" style="stroke-width:1.3"/>
<ellipse cx="991.4" cy="356.3" rx="2.5" ry="3.3" transform="rotate(-14 991.4 356.3)" class="o" style="stroke-width:1.6"/>
<g fill="#000"><circle cx="951" cy="339" r=".5"/><circle cx="958" cy="329.4" r=".5"/><circle cx="967" cy="332" r=".5"/><circle cx="940" cy="348" r=".5"/><circle cx="970" cy="366" r=".5"/><circle cx="983" cy="364" r=".5"/><circle cx="993" cy="362.4" r=".5"/><circle cx="996" cy="357" r=".5"/><circle cx="955" cy="355" r=".5"/><circle cx="937" cy="334" r=".5"/></g>
</g>
<!-- nut 24 -->
<g id="nut24">
<path class="o" d="M1016.4,335.4 L1019.6,335.4 L1026.2,337.2 Q1029.4,339.6 1029.2,343.4 L1027.4,349.2 L1022.6,351.2 L1016.4,353.8 Z"/>
<path class="t" d="M1022.6,338.4 L1026.2,337.2 M1022.8,345.6 L1029,343.6 M1022.8,345.6 L1022.6,351.2 M1022.6,338.4 L1022.8,345.6"/>
<ellipse cx="1016.2" cy="344.8" rx="6.4" ry="9.2" fill="#fff" stroke="#000" stroke-width="1.8"/>
<ellipse cx="1015.6" cy="345.8" rx="2.2" ry="2.8" fill="#fff" stroke="#000" stroke-width="1.3"/>
<circle cx="1015.6" cy="346" r="0.8" fill="#000"/>
</g>
<!-- pin 1 -->
<g id="pin1">
<path class="o" d="M1012.2,404.8 L1026,410.4 L1023.8,418 L1010.2,411.6 Q1008.4,409.8 1009.2,407.2 Q1010.2,404.8 1012.2,404.8 Z"/>
<path class="t" d="M1013.6,406.4 L1016.4,407.6 M1014.6,408.2 L1016.8,409"/>
<path class="o" d="M1024,411.6 Q1024.4,410 1026.4,409.8 L1033.4,409.4 Q1035.6,409.6 1035.8,412 L1035.6,416 Q1035.2,418.6 1032.6,419.8 L1026,421 Q1023.4,420.8 1023.2,418.6 Z"/>
<path class="t" d="M1026,412.6 Q1026.2,411.4 1027.6,411.2 L1033,410.8 Q1034.4,411 1034.4,412.6 L1034.2,415.8 Q1033.8,417.6 1032,418.4 L1027.4,419.4 Q1025.6,419.2 1025.6,417.6 Z" style="stroke-width:0.9"/>
</g>
<!-- clip 25 -->
<g id="clip25">
<path class="o" d="M1013.8,445.2 Q1015.4,443.6 1017,445.2 L1017.6,449.4 L1022.6,449.6 Q1024.4,450.6 1024.4,453.6 L1024,460.4 L1022,468.4 L1022.8,474.8 L1011.6,473.2 Q1009.4,471.4 1009.6,469 L1013,463.6 Z"/>
<path class="t" d="M1016,447.6 L1015.4,466.6 M1018.6,451.4 L1018,466.6 M1021.4,452 L1020.4,466.6 M1012.4,469.4 L1020.2,471.4 M1015.4,466.6 L1012.4,469.4 M1018.6,451.4 L1021.4,452"/>
</g>
<!-- clip 3 -->
<g id="clip3" fill="none" stroke-linecap="round" stroke-linejoin="round">
<path d="M873.6,426 L878.8,427 Q881,429.6 883.6,429 Q886,430.6 888.6,431.4 L892.4,435.6" stroke="#000" stroke-width="3.6"/>
<path d="M873.6,426 L878.8,427 Q881,429.6 883.6,429 Q886,430.6 888.6,431.4 L892.4,435.6" stroke="#fff" stroke-width="0.9"/>
<path d="M878.6,421.2 L899,429.2 Q903.6,432.2 900.4,434.8 Q896.6,436.2 892.4,435.6 L886.6,429.4" stroke="#000" stroke-width="3.8"/>
<path d="M878.6,421.2 L899,429.2 Q903.6,432.2 900.4,434.8 Q896.6,436.2 892.4,435.6 L888.6,431.4" stroke="#fff" stroke-width="1.0"/>
</g>
<!-- bolt 23 -->
<g id="bolt23">
<path class="o" d="M98.8,317 V334.6 Q98.8,336.8 103,336.8 Q107.2,336.8 107.2,334.6 V317 Z"/>
<path d="M98.8,320.6 Q103,322.2 107.2,320.6 M98.8,323.4 Q103,325 107.2,323.4 M98.8,326.2 Q103,327.8 107.2,326.2 M98.8,329 Q103,330.6 107.2,329 M98.8,331.8 Q103,333.4 107.2,331.8 M98.8,334.4 Q103,335.8 107.2,334.4" stroke="#000" stroke-width="1.4" fill="none"/>
<ellipse cx="102.9" cy="316.2" rx="8.2" ry="3" fill="#000"/>
<path d="M95.4,315.6 Q102.9,319.2 110.4,315.6" stroke="#fff" stroke-width="0.7" fill="none"/>
<ellipse cx="102.9" cy="314.4" rx="9.4" ry="3.6" fill="#000"/>
<path d="M95.6,314.2 Q102.9,317.6 110.2,314.2" stroke="#fff" stroke-width="0.8" fill="none"/>
<path class="o" d="M95.4,312.6 V304.4 Q95.4,301.2 102.9,301.2 Q110.4,301.2 110.4,304.4 V312.6 Q102.9,315 95.4,312.6 Z"/>
<path class="t" d="M99.6,305.6 V313.8 M107.6,305.6 V313.6 M95.6,304.6 Q99,306 102.9,306 Q107,306 110.2,304.6"/>
</g>
<!-- cap 8 -->
<g id="cap8">
<ellipse cx="153.6" cy="307.4" rx="7.3" ry="3.1" fill="#fff" stroke="#000" stroke-width="1.6"/>
<ellipse cx="153.6" cy="305.4" rx="7.3" ry="3" fill="#fff" stroke="#000" stroke-width="1.6"/>
<path class="o" d="M150,304.4 L150.2,298.4 Q150.4,294.8 153.6,294.8 Q156.8,294.8 157,298.4 L157.2,304.4 Q153.6,306.2 150,304.4 Z"/>
<path d="M152.8,297.2 l1,1.8 l-0.8,2.2 M154.8,299.6 l0.6,2.2" stroke="#000" stroke-width="0.9" fill="none"/>
</g>
<!-- bleeder 6 -->
<g id="bleeder6">
<path class="o" d="M150.2,336.4 V346 Q150.2,347.6 153.9,347.6 Q157.6,347.6 157.6,346 V336.4 Z"/>
<path d="M150.2,339 H157.6 M150.2,341.6 H157.6 M150.2,344.2 H157.6" stroke="#000" stroke-width="1.3"/>
<path class="o" d="M148,328 L149.4,326.8 H158.4 L159.8,328 V333 L157.6,336.6 H150.2 L148,333 Z"/>
<path class="t" d="M151.4,327 V336.4 M156.4,327 V336.4 M148,333 H159.8"/>
<path class="o" d="M151.2,321 H155.6 V327 H151.2 Z"/>
<path class="o" d="M149.6,317 Q149.6,315.4 151.2,315.4 H155.6 Q157.2,315.4 157.2,317 V320 Q157.2,321.4 155.6,321.4 H151.2 Q149.6,321.4 149.6,320 Z"/>
<path class="t" d="M149.8,317.6 H157"/>
</g>
<!-- slave cylinder 5 -->
<g id="slave5">
<!-- pushrod tip -->
<path class="o" style="stroke-width:1.8" d="M79.6,347 L72.6,344.4 Q69.4,344 67.8,347.4 L68.6,353.6 Q69.6,355.6 72,355.6 L80,358.4 Z"/>
<path class="t" d="M77.2,346.6 Q75,351 77.4,357 M72.4,349.4 L74.6,350.4 L74,352.4"/>
<!-- lower strip -->
<path class="o" d="M71.6,354.6 L75,353.6 L98.6,366 L98.2,369.6 L95.6,369.6 Z"/>
<path d="M71.4,355.2 L97.2,369" stroke="#000" stroke-width="3" fill="none"/>
<path class="o" d="M84.4,365.4 L86,369.6 L94,371.6 L96,369"/>
<path d="M87,368 l4,1.2" stroke="#000" stroke-width="1" fill="none"/>
<!-- boot -->
<path class="o" style="stroke-width:1.8" d="M78.6,347.4 L84.8,347.2 L90,345.6 L94.8,345.8 L103,348.4 L110.6,350.9 L113,352.6 L104,367 L98,368 L92,365.2 L86,361.6 L79.6,358.4 Z"/>
<path d="M86.3,346.8 Q82.3,353.4 85.6,361.2" stroke="#000" stroke-width="2.3" fill="none"/>
<path d="M94.7,346 Q89.4,354.6 92.6,364.6" stroke="#000" stroke-width="2.3" fill="none"/>
<path d="M102.4,348.2 Q96.8,356.8 99.4,367" stroke="#000" stroke-width="2.3" fill="none"/>
<path d="M110.2,351 Q104.4,358.6 104.8,367" stroke="#000" stroke-width="2" fill="none"/>
<path class="t" d="M81.6,347.6 Q79.6,352.6 81.8,359"/>
<g fill="#000"><circle cx="88.6" cy="351" r=".55"/><circle cx="87.6" cy="354.6" r=".55"/><circle cx="88" cy="358.4" r=".55"/><circle cx="91" cy="349" r=".55"/><circle cx="89.6" cy="361" r=".55"/><circle cx="96.4" cy="352" r=".55"/><circle cx="95" cy="356" r=".55"/><circle cx="95" cy="360" r=".55"/><circle cx="96" cy="363.6" r=".55"/><circle cx="98.4" cy="349.6" r=".55"/><circle cx="104" cy="353" r=".55"/><circle cx="102" cy="357" r=".55"/><circle cx="101.6" cy="361" r=".55"/><circle cx="102" cy="364.6" r=".55"/><circle cx="106.6" cy="351.6" r=".55"/></g>
<!-- body tube -->
<path class="o" d="M106.3,349.4 L140,365.6 L152,372 L152,392 L120,390 L101,368 Q100,358 106.3,349.4 Z"/>
<!-- port block -->
<path class="o" d="M139,356.6 V368.6 Q141,371.6 145,371.6 L150,373 V360 Z"/>
<path class="o" d="M149,363 V377 L154,386 L161.8,384 V363.4 Z"/>
<ellipse cx="145" cy="356.2" rx="6" ry="2.8" class="o" transform="rotate(10 145 356.2)"/>
<ellipse cx="155.4" cy="362.8" rx="6.4" ry="2.8" class="o" transform="rotate(6 155.4 362.8)"/>
<ellipse cx="145.6" cy="356.2" rx="2.2" ry="1" class="t"/>
<ellipse cx="155.8" cy="362.8" rx="2.4" ry="1" fill="#000"/>
<path class="t" d="M144,364 l0.4,4 M146.6,363 v3"/>
<!-- base flange -->
<path class="o" d="M96,372.6 L97,368.8 L106.4,366.2 L116,368.6 L148,382.4 L150,392.8 L120.2,390.6 L96,380.2 Z"/>
<path class="t" d="M96,372.6 L120,383 L148.6,385.6 M98.6,369.6 L109,372.6 L121.6,380.6 L132,382.6 L144,381.6"/>
<ellipse cx="104.2" cy="370" rx="3.7" ry="1.7" class="o" style="stroke-width:1.3" transform="rotate(8 104.2 370)"/>
<ellipse cx="127.2" cy="379" rx="3.7" ry="1.7" class="o" style="stroke-width:1.3" transform="rotate(8 127.2 379)"/>
<ellipse cx="104.2" cy="370.2" rx="1.8" ry="0.7" class="t"/>
<ellipse cx="127.2" cy="379.2" rx="1.8" ry="0.7" class="t"/>
<path d="M111,373.6 l3,1.2 M115.6,375.8 l2.4,0.2 l1,1.6 M134,380.8 l4,0.6 M139.6,381 l3,0.6" stroke="#000" stroke-width="1" fill="none"/>
<!-- end cap -->
<ellipse cx="156.6" cy="384.6" rx="7.2" ry="10" class="o" style="stroke-width:1.7"/>
<path d="M152.4,377 C150.6,381 150.8,388 153.4,392.6 C157,394.4 160.6,392 162,388 C158.6,387.6 155.6,384 154.6,377.6 Z" fill="#fff" stroke="#000" stroke-width="1.2"/>
<path d="M149,363 V375.6 Q152,376.8 154.4,376.4 Q155,382.6 158.4,386 Q160.6,387.6 161.8,386 V372" fill="#fff" stroke="none"/>
<path class="t" style="stroke-width:1.5" d="M154.4,376.4 Q155,382.6 158.4,386 Q160.6,387.6 161.8,385.6 V364"/>
</g>
<!-- pin 4 -->
<g id="pin4">
<path class="o" d="M70.6,394.4 L72.4,392.6 L85.6,388 Q87.8,388.4 87.8,390.4 Q87.8,392.4 86.4,393 L73.6,398.4 L71,397.6 Z"/>
<path class="t" d="M72.4,392.6 L73.4,395 L73.6,398.4 M73.4,395 L87,390"/>
</g>
<!-- plate 7 -->
<g id="plate7">
<path class="o" style="stroke-width:1.7" d="M89.4,427 L97.9,419.9 L111.8,424.4 L117.8,419.9 L127.7,422.9 L129,423.4 L132.7,422.6 L137.7,426.4 L149.6,430.9 L158.6,432.9 L172.5,438.3 L173,448.8 L160.5,456.2 L135.7,451.8 L131.7,449.8 L123.8,450.8 L89.4,436 Z"/>
<path class="t" style="stroke-width:1.4" d="M89.4,428.6 L123.8,443.8 L131.7,443.6 L135,440.4 Q140,438 146,438.6 L148,436.4 L151.6,438.4 L152,443.6 Q153,446.4 156,446 L172.5,438.3"/>
<path class="t" d="M123.8,443.8 V450.8 M141.4,446.4 V450.6 M111.8,424.4 L125,429.4 L131.6,432 L137.4,433.4 L146,438.6 M117.8,419.9 L114,423.4 M125,429.4 L129,423.4 M131.6,432 L133.6,424.4 M137.7,426.4 L134.6,431.6 M134.6,431.6 L147,435.6 L149.6,430.9 M148,436.4 L151,433 L158.6,432.9 M151,433 L154,437.4 L157.6,434"/>
<ellipse cx="104.4" cy="427.4" rx="3.4" ry="1.6" class="t" transform="rotate(12 104.4 427.4)"/>
<path class="t" style="stroke-width:1.4" d="M104.6,434 L110,428.8 L120.6,433 L115.4,439 Z"/>
<path class="t" d="M109.6,431 L116.6,433.6 L115.6,436 L108.4,433.4 Z M108.4,433.4 L107.6,435.4 L114,438"/>
<ellipse cx="128.2" cy="437.3" rx="3.4" ry="2.2" fill="#000"/>
</g>
<!-- bolt 22 -->
<g id="bolt22" transform="translate(127.6,477.3) rotate(-27.4)">
<path class="o" d="M3.5,-3.5 H15.6 Q17.6,-3.5 17.6,0 Q17.6,3.5 15.6,3.5 H3.5 Z"/>
<path class="t" d="M6,-3.5 Q7.2,0 6,3.5 M8.4,-3.5 Q9.6,0 8.4,3.5 M10.8,-3.5 Q12,0 10.8,3.5 M13.2,-3.5 Q14.4,0 13.2,3.5 M15.4,-3.4 Q16.4,0 15.4,3.4" style="stroke-width:1.4"/>
<ellipse cx="0.4" cy="0" rx="4" ry="9.2" fill="#000"/>
<ellipse cx="-0.4" cy="0" rx="2.9" ry="7.9" fill="#fff"/>
<ellipse cx="-1.4" cy="0" rx="3" ry="8" fill="#000"/>
<ellipse cx="-2.4" cy="0" rx="2.4" ry="6.8" fill="#fff"/>
<path class="o" d="M-2.4,-6.4 L-10.6,-6.4 Q-14,-6.4 -14,0 Q-14,6.4 -10.6,6.4 L-2.4,6.4 Q-0.8,0 -2.4,-6.4 Z"/>
<ellipse class="o" cx="-10.6" cy="0" rx="3.4" ry="6.4"/>
<path class="t" d="M-2.2,-2.2 H-7.4 M-2.2,2.8 H-7.4"/>
</g>
<!-- FR arrow -->
<g id="fr">
<path d="M18.5,524.2 L24.8,508.6 L26.6,513.4 L50.7,503.9 L54.6,516.5 L31.6,526 L33.8,531.1 Z" fill="#000"/>
<path d="M50.9,503.4 L55,516.6" stroke="#fff" stroke-width="0.9"/>
<path d="M52,503 L56,516.2" stroke="#000" stroke-width="1"/>
<text transform="translate(53.2,517.8) rotate(-21) skewX(-10) scale(0.99,1)" style='font-family:"Liberation Sans",sans-serif;font-weight:bold;font-size:19.5px;fill:#000;stroke:#000;stroke-width:1.1px'>FR</text>
<circle cx="81.8" cy="503.2" r="2.7" fill="#000"/>
</g>
</g>
</svg>
</body>
</html>
